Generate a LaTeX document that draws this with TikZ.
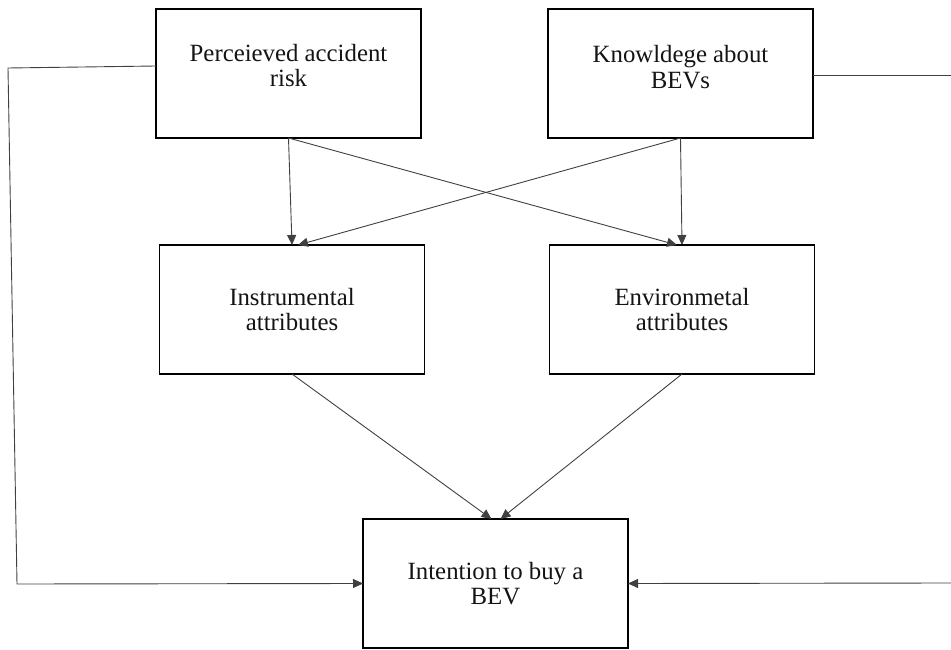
\documentclass[tikz,border=0pt]{standalone}
\usepackage{fontspec}
\setmainfont{Liberation Serif}
\usetikzlibrary{arrows.meta}
\tikzset{
  box/.style={draw=black, line width=1.9pt, minimum width=265pt, minimum height=129pt, inner sep=0pt, outer sep=0pt},
  lbl/.style={align=center, font=\fontsize{24.8}{25.5}\selectfont, text=black!92, inner sep=0pt},
  conn/.style={draw=black!75, line width=0.9pt},
  arr/.style={conn, -{Triangle[length=10pt,width=9pt]}}
}
\begin{document}
\begin{tikzpicture}[x=1pt,y=-1pt]
\useasboundingbox (0,0) rectangle (951,650);
\node[box] (risk) at (288.5,73.5) {};
\node[box] (know) at (680.5,73.5) {};
\node[box] (instr) at (292,309.5) {};
\node[box] (env) at (682,309.5) {};
\node[box] (intent) at (495.5,583.5) {};
\node[lbl] (riskt) at ([yshift=8]risk.center) {Perceieved accident\\risk};
\node[lbl] (knowt) at ([yshift=6.5]know.center) {Knowldege about\\BEVs};
\node[lbl] (instrt) at (instr.center) {Instrumental\\attributes};
\node[lbl] (envt) at (env.center) {Environmetal\\attributes};
\node[lbl] (intentt) at (intent.center) {Intention to buy a\\BEV};
\coordinate (lt) at (8,68);
\coordinate (lb) at (17,584);
\coordinate (rt) at (951,75);
\coordinate (rb) at (951,583);
\draw[arr] (risk.south) -- (instr.north);
\draw[arr] (risk.south) -- ([xshift=-5]env.north);
\draw[arr] (know.south) -- ([xshift=6]instr.north);
\draw[arr] (know.south) -- (env.north);
\draw[arr] (instr.south) -- ([xshift=-4]intent.north);
\draw[arr] (env.south) -- ([xshift=5]intent.north);
\draw[arr] ([yshift=7.5]risk.west) -- (lt) -- (lb) -- (intent.west);
\draw[conn] ([yshift=-1.5]know.east) -- (rt);
\draw[arr] (rb) -- (intent.east);
\end{tikzpicture}
\end{document}
